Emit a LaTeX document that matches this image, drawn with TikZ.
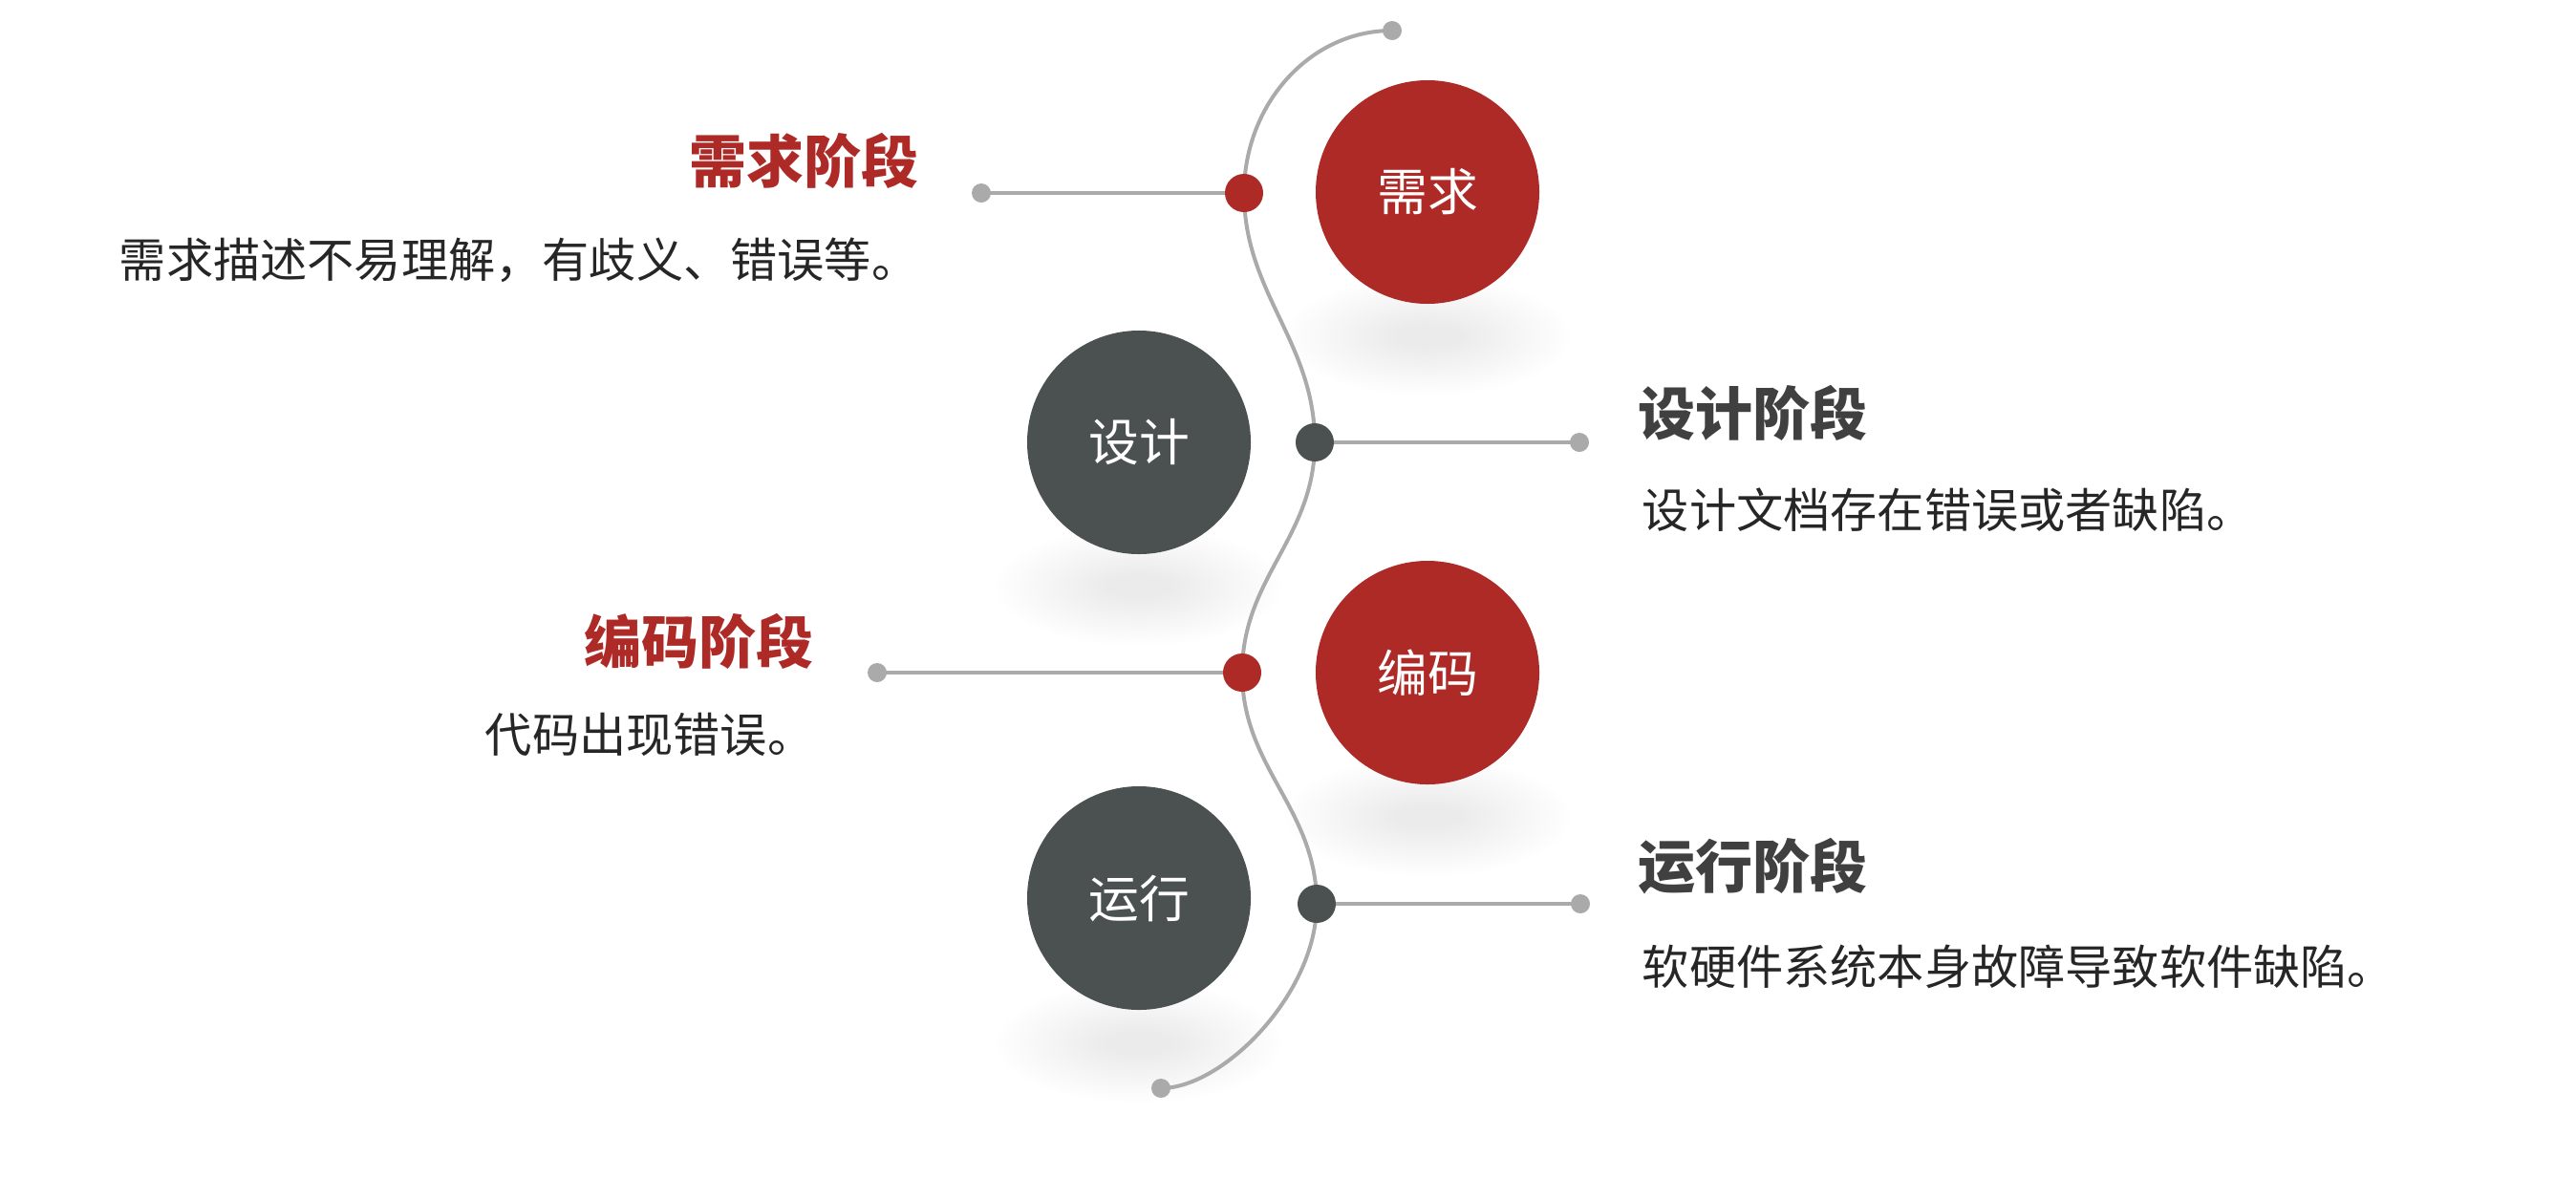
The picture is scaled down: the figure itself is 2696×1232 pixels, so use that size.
\documentclass[tikz,border=0pt]{standalone}
\usepackage{fontspec}
\setmainfont{Noto Sans CJK SC}
\newfontfamily\cjk{Noto Sans CJK SC}
\definecolor{myred}{HTML}{AD2A27}
\definecolor{mydark}{HTML}{4A5150}
\definecolor{lgray}{HTML}{AAAAAA}
\definecolor{ttlgray}{HTML}{404040}
\definecolor{txt}{HTML}{262626}
\tikzset{
  bigred/.style={circle,fill=myred,minimum size=58.5pt,inner sep=0,text=white,font=\cjk\fontsize{13.2pt}{13.2pt}\selectfont},
  bigdark/.style={bigred,fill=mydark},
  reddot/.style={circle,fill=myred,minimum size=10pt,inner sep=0},
  darkdot/.style={circle,fill=mydark,minimum size=10pt,inner sep=0},
  enddot/.style={circle,fill=lgray,minimum size=5pt,inner sep=0},
  wave/.style={draw=lgray,line width=1pt},
  arm/.style={draw=lgray,line width=1.2pt},
  ttl/.style={inner sep=0,font=\cjk\bfseries\fontsize{15pt}{15pt}\selectfont},
  desc/.style={inner sep=0,text=txt,font=\cjk\fontsize{12.3pt}{12.3pt}\selectfont},
}
\newcommand{\myshadow}[2]{%
  \foreach \i in {0,...,19}{%
    \fill[black,opacity=0.0045] (#1,#2) ellipse ({(150-\i*6)*0.25pt} and {(62-\i*2.6)*0.25pt});
  }%
}
\begin{document}
\begin{tikzpicture}[x=0.25pt,y=-0.25pt]
\useasboundingbox[fill=white] (0,0) rectangle (2696,1232);
% shadows
\myshadow{1494}{352}
\myshadow{1192}{614}
\myshadow{1494}{855}
\myshadow{1192}{1092}
% positions
\coordinate (ptop) at (1457,32);
\coordinate (p1) at (1302,202);
\coordinate (p2) at (1376,463);
\coordinate (p3) at (1300,704);
\coordinate (p4) at (1378,946);
\coordinate (pbot) at (1215,1139);
\coordinate (q1) at (1027,202);
\coordinate (q2) at (1653,463);
\coordinate (q3) at (918,704);
\coordinate (q4) at (1654,946);
% wave
\draw[wave] (ptop) .. controls +(-87,0) and +(0,-92) .. (p1)
  .. controls +(0,105) and +(0,-105) .. (p2)
  .. controls +(0,100) and +(0,-100) .. (p3)
  .. controls +(0,100) and +(0,-100) .. (p4)
  .. controls +(0,94) and +(65,0) .. (pbot);
% arms
\draw[arm] (q1) -- (p1);
\draw[arm] (p2) -- (q2);
\draw[arm] (q3) -- (p3);
\draw[arm] (p4) -- (q4);
% dots
\node[enddot] (top) at (ptop) {};
\node[enddot] (bot) at (pbot) {};
\node[enddot] (e1) at (q1) {};
\node[enddot] (e2) at (q2) {};
\node[enddot] (e3) at (q3) {};
\node[enddot] (e4) at (q4) {};
\node[reddot] (d1) at (p1) {};
\node[darkdot] (d2) at (p2) {};
\node[reddot] (d3) at (p3) {};
\node[darkdot] (d4) at (p4) {};
% big circles
\node[bigred] (c1) at (1494,201) {需求};
\node[bigdark] (c2) at (1192,463) {设计};
\node[bigred] (c3) at (1494,704) {编码};
\node[bigdark] (c4) at (1192,940) {运行};
% texts
\node[ttl,text=myred,anchor=east] (t1) at (962,168) {需求阶段};
\node[desc,anchor=east] (s1) at (962,272) {需求描述不易理解，有歧义、错误等。};
\node[ttl,text=ttlgray,anchor=west] (t2) at (1714,432) {设计阶段};
\node[desc,anchor=west] (s2) at (1718,534) {设计文档存在错误或者缺陷。};
\node[ttl,text=myred,anchor=east] (t3) at (852,671) {编码阶段};
\node[desc,anchor=east] (s3) at (853,769) {代码出现错误。};
\node[ttl,text=ttlgray,anchor=west] (t4) at (1714,907) {运行阶段};
\node[desc,anchor=west] (s4) at (1718,1012) {软硬件系统本身故障导致软件缺陷。};
\end{tikzpicture}
\end{document}
